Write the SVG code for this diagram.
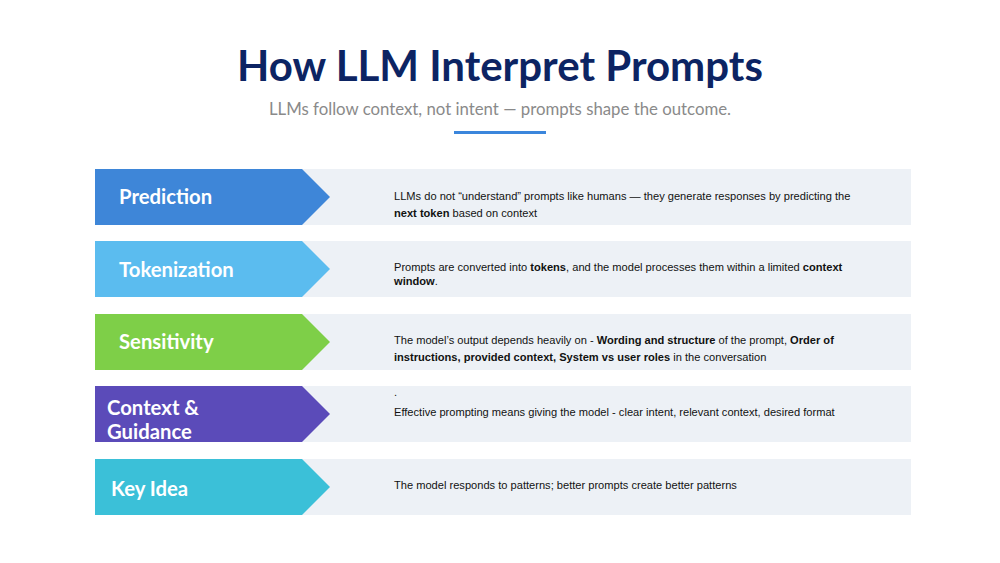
<svg xmlns="http://www.w3.org/2000/svg" width="1000" height="563" viewBox="0 0 1000 563">
<style>
.bg{fill:#edf1f6}
.lbl{font-family:"Lato","Liberation Sans",sans-serif;font-weight:bold;font-size:20.3px;fill:#fff}
.d{font-family:"Liberation Sans",Arial,sans-serif;font-size:11.1px;fill:#111}
.b{font-weight:bold}
</style>
<rect width="1000" height="563" fill="#fff"/>
<text x="500" y="81" text-anchor="middle" font-family="Lato,'Liberation Sans',sans-serif" font-weight="bold" font-size="42" fill="#0c2463">How LLM Interpret Prompts</text>
<text x="500" y="115" text-anchor="middle" font-family="Lato,'Liberation Sans',sans-serif" font-size="16.8" fill="#8a8a8a">LLMs follow context, not intent — prompts shape the outcome.</text>
<rect x="454" y="131" width="92" height="3" fill="#3b86dc"/>
<g id="row1"><rect class="bg" x="302" y="169" width="609" height="56"/><polygon points="95,169 302,169 330,197 302,225 95,225" fill="#3e86d8"/><text class="lbl" x="119" y="204">Prediction</text>
<text class="d" x="394" y="200">LLMs do not “understand” prompts like humans — they generate responses by predicting the</text><text class="d" x="394" y="217"><tspan class="b">next token</tspan> based on context</text></g>
<g id="row2"><rect class="bg" x="302" y="241" width="609" height="56"/><polygon points="95,241 302,241 330,269 302,297 95,297" fill="#5bbcef"/><text class="lbl" x="119" y="277">Tokenization</text>
<text class="d" x="394" y="271">Prompts are converted into <tspan class="b">tokens</tspan>, and the model processes them within a limited <tspan class="b">context</tspan></text><text class="d" x="394" y="285"><tspan class="b">window</tspan>.</text></g>
<g id="row3"><rect class="bg" x="302" y="314" width="609" height="56"/><polygon points="95,314 302,314 330,342 302,370 95,370" fill="#7ecf48"/><text class="lbl" x="119" y="349">Sensitivity</text>
<text class="d" x="394" y="344">The model’s output depends heavily on - <tspan class="b">Wording and structure</tspan> of the prompt, <tspan class="b">Order of</tspan></text><text class="d" x="394" y="361"><tspan class="b">instructions, provided context, System vs user roles</tspan> in the conversation</text></g>
<g id="row4"><rect class="bg" x="302" y="386" width="609" height="56"/><polygon points="95,386 302,386 330,414 302,442 95,442" fill="#5b4bb9"/><text class="lbl" x="107" y="415">Context &amp;</text><text class="lbl" x="107" y="439">Guidance</text>
<text class="d" x="394" y="396">.</text><text class="d" x="394" y="416">Effective prompting means giving the model - clear intent, relevant context, desired format</text></g>
<g id="row5"><rect class="bg" x="302" y="459" width="609" height="56"/><polygon points="95,459 302,459 330,487 302,515 95,515" fill="#3bc0d8"/><text class="lbl" x="111" y="496">Key Idea</text>
<text class="d" x="394" y="489">The model responds to patterns; better prompts create better patterns</text></g>
<g id="connectors"/>
</svg>
